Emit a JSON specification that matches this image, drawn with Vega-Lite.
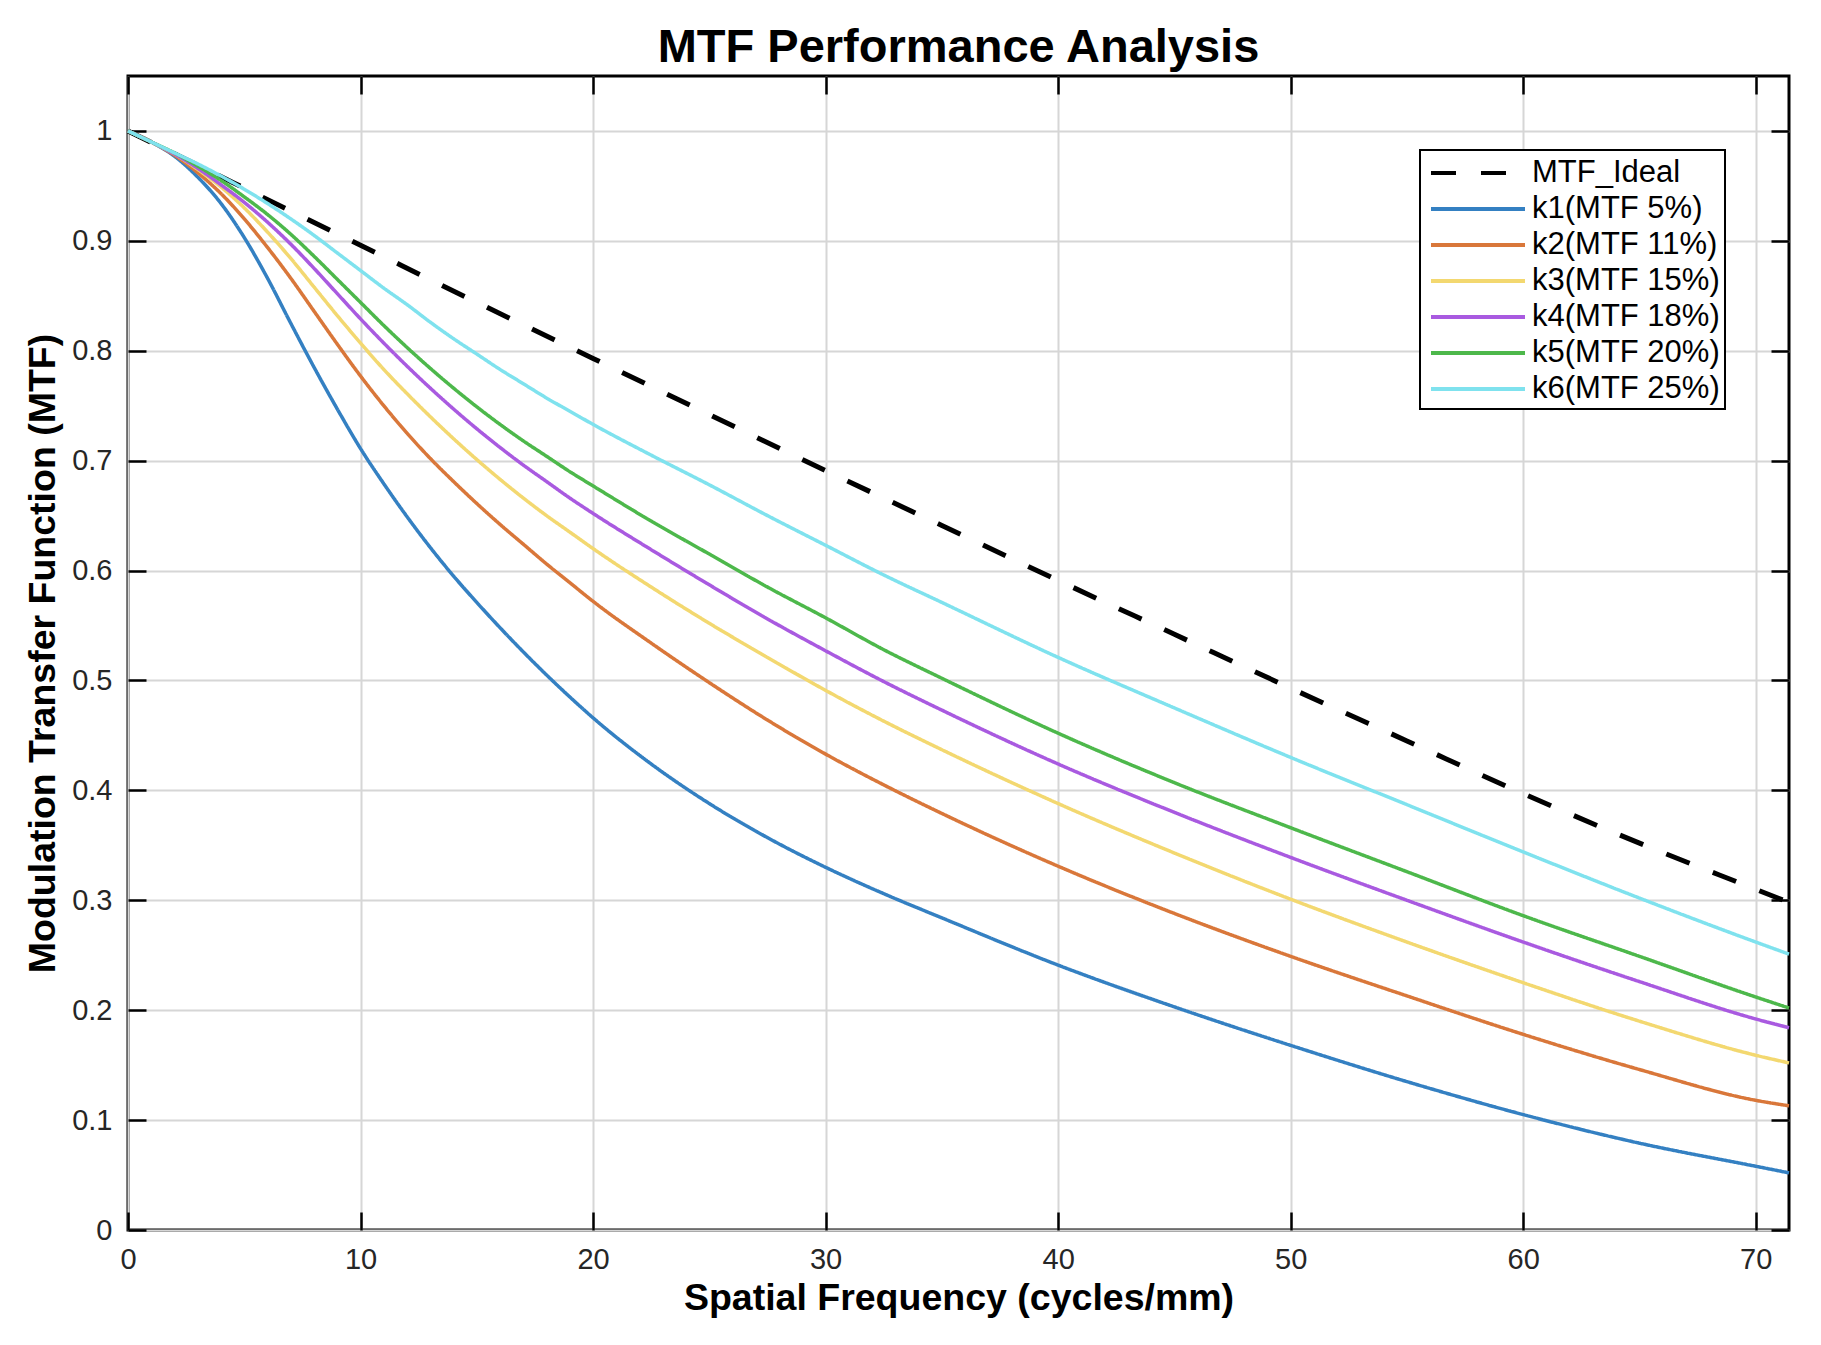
{
  "$schema": "https://vega.github.io/schema/vega-lite/v6.json",
  "width": 1661,
  "height": 1154,
  "autosize": {"type": "none"},
  "padding": {"left": 128, "top": 76, "right": 32, "bottom": 115},
  "background": "white",
  "title": {
    "text": "MTF Performance Analysis",
    "font": "Liberation Sans",
    "fontSize": 47,
    "fontWeight": "bold",
    "color": "black",
    "anchor": "middle",
    "frame": "group",
    "baseline": "alphabetic",
    "offset": -34
  },
  "data": {
    "values": [
      {"freq": 0, "mtf": 1.0, "series": "MTF_Ideal"},
      {"freq": 5, "mtf": 0.948, "series": "MTF_Ideal"},
      {"freq": 10, "mtf": 0.896, "series": "MTF_Ideal"},
      {"freq": 15, "mtf": 0.844, "series": "MTF_Ideal"},
      {"freq": 20, "mtf": 0.793, "series": "MTF_Ideal"},
      {"freq": 25, "mtf": 0.742, "series": "MTF_Ideal"},
      {"freq": 30, "mtf": 0.691, "series": "MTF_Ideal"},
      {"freq": 35, "mtf": 0.641, "series": "MTF_Ideal"},
      {"freq": 40, "mtf": 0.591, "series": "MTF_Ideal"},
      {"freq": 45, "mtf": 0.542, "series": "MTF_Ideal"},
      {"freq": 50, "mtf": 0.493, "series": "MTF_Ideal"},
      {"freq": 55, "mtf": 0.445, "series": "MTF_Ideal"},
      {"freq": 60, "mtf": 0.397, "series": "MTF_Ideal"},
      {"freq": 65, "mtf": 0.352, "series": "MTF_Ideal"},
      {"freq": 70, "mtf": 0.31, "series": "MTF_Ideal"},
      {"freq": 71.43, "mtf": 0.298, "series": "MTF_Ideal"},

      {"freq": 0, "mtf": 1.0, "series": "k1(MTF 5%)"},
      {"freq": 1, "mtf": 0.99, "series": "k1(MTF 5%)"},
      {"freq": 2, "mtf": 0.977, "series": "k1(MTF 5%)"},
      {"freq": 3, "mtf": 0.958, "series": "k1(MTF 5%)"},
      {"freq": 4, "mtf": 0.934, "series": "k1(MTF 5%)"},
      {"freq": 5, "mtf": 0.903, "series": "k1(MTF 5%)"},
      {"freq": 6, "mtf": 0.866, "series": "k1(MTF 5%)"},
      {"freq": 7, "mtf": 0.825, "series": "k1(MTF 5%)"},
      {"freq": 8, "mtf": 0.785, "series": "k1(MTF 5%)"},
      {"freq": 9, "mtf": 0.747, "series": "k1(MTF 5%)"},
      {"freq": 10, "mtf": 0.711, "series": "k1(MTF 5%)"},
      {"freq": 11, "mtf": 0.679, "series": "k1(MTF 5%)"},
      {"freq": 12, "mtf": 0.649, "series": "k1(MTF 5%)"},
      {"freq": 13, "mtf": 0.621, "series": "k1(MTF 5%)"},
      {"freq": 14, "mtf": 0.595, "series": "k1(MTF 5%)"},
      {"freq": 15, "mtf": 0.571, "series": "k1(MTF 5%)"},
      {"freq": 16, "mtf": 0.548, "series": "k1(MTF 5%)"},
      {"freq": 17, "mtf": 0.526, "series": "k1(MTF 5%)"},
      {"freq": 18, "mtf": 0.505, "series": "k1(MTF 5%)"},
      {"freq": 19, "mtf": 0.485, "series": "k1(MTF 5%)"},
      {"freq": 20, "mtf": 0.466, "series": "k1(MTF 5%)"},
      {"freq": 22.5, "mtf": 0.424, "series": "k1(MTF 5%)"},
      {"freq": 25, "mtf": 0.388, "series": "k1(MTF 5%)"},
      {"freq": 27.5, "mtf": 0.357, "series": "k1(MTF 5%)"},
      {"freq": 30, "mtf": 0.33, "series": "k1(MTF 5%)"},
      {"freq": 32.5, "mtf": 0.306, "series": "k1(MTF 5%)"},
      {"freq": 35, "mtf": 0.284, "series": "k1(MTF 5%)"},
      {"freq": 40, "mtf": 0.241, "series": "k1(MTF 5%)"},
      {"freq": 45, "mtf": 0.203, "series": "k1(MTF 5%)"},
      {"freq": 50, "mtf": 0.168, "series": "k1(MTF 5%)"},
      {"freq": 55, "mtf": 0.135, "series": "k1(MTF 5%)"},
      {"freq": 60, "mtf": 0.105, "series": "k1(MTF 5%)"},
      {"freq": 65, "mtf": 0.079, "series": "k1(MTF 5%)"},
      {"freq": 70, "mtf": 0.058, "series": "k1(MTF 5%)"},
      {"freq": 71.43, "mtf": 0.052, "series": "k1(MTF 5%)"},

      {"freq": 0, "mtf": 1.0, "series": "k2(MTF 11%)"},
      {"freq": 1, "mtf": 0.99, "series": "k2(MTF 11%)"},
      {"freq": 2, "mtf": 0.978, "series": "k2(MTF 11%)"},
      {"freq": 3, "mtf": 0.962, "series": "k2(MTF 11%)"},
      {"freq": 4, "mtf": 0.943, "series": "k2(MTF 11%)"},
      {"freq": 5, "mtf": 0.92, "series": "k2(MTF 11%)"},
      {"freq": 6, "mtf": 0.894, "series": "k2(MTF 11%)"},
      {"freq": 7, "mtf": 0.866, "series": "k2(MTF 11%)"},
      {"freq": 8, "mtf": 0.836, "series": "k2(MTF 11%)"},
      {"freq": 9, "mtf": 0.806, "series": "k2(MTF 11%)"},
      {"freq": 10, "mtf": 0.777, "series": "k2(MTF 11%)"},
      {"freq": 11, "mtf": 0.75, "series": "k2(MTF 11%)"},
      {"freq": 12, "mtf": 0.725, "series": "k2(MTF 11%)"},
      {"freq": 13, "mtf": 0.702, "series": "k2(MTF 11%)"},
      {"freq": 14, "mtf": 0.681, "series": "k2(MTF 11%)"},
      {"freq": 15, "mtf": 0.661, "series": "k2(MTF 11%)"},
      {"freq": 16, "mtf": 0.642, "series": "k2(MTF 11%)"},
      {"freq": 17, "mtf": 0.624, "series": "k2(MTF 11%)"},
      {"freq": 18, "mtf": 0.606, "series": "k2(MTF 11%)"},
      {"freq": 19, "mtf": 0.589, "series": "k2(MTF 11%)"},
      {"freq": 20, "mtf": 0.572, "series": "k2(MTF 11%)"},
      {"freq": 22.5, "mtf": 0.534, "series": "k2(MTF 11%)"},
      {"freq": 25, "mtf": 0.498, "series": "k2(MTF 11%)"},
      {"freq": 27.5, "mtf": 0.464, "series": "k2(MTF 11%)"},
      {"freq": 30, "mtf": 0.433, "series": "k2(MTF 11%)"},
      {"freq": 32.5, "mtf": 0.405, "series": "k2(MTF 11%)"},
      {"freq": 35, "mtf": 0.379, "series": "k2(MTF 11%)"},
      {"freq": 40, "mtf": 0.331, "series": "k2(MTF 11%)"},
      {"freq": 45, "mtf": 0.288, "series": "k2(MTF 11%)"},
      {"freq": 50, "mtf": 0.249, "series": "k2(MTF 11%)"},
      {"freq": 55, "mtf": 0.213, "series": "k2(MTF 11%)"},
      {"freq": 60, "mtf": 0.178, "series": "k2(MTF 11%)"},
      {"freq": 65, "mtf": 0.146, "series": "k2(MTF 11%)"},
      {"freq": 70, "mtf": 0.118, "series": "k2(MTF 11%)"},
      {"freq": 71.43, "mtf": 0.113, "series": "k2(MTF 11%)"},

      {"freq": 0, "mtf": 1.0, "series": "k3(MTF 15%)"},
      {"freq": 1, "mtf": 0.99, "series": "k3(MTF 15%)"},
      {"freq": 2, "mtf": 0.979, "series": "k3(MTF 15%)"},
      {"freq": 3, "mtf": 0.965, "series": "k3(MTF 15%)"},
      {"freq": 4, "mtf": 0.949, "series": "k3(MTF 15%)"},
      {"freq": 5, "mtf": 0.93, "series": "k3(MTF 15%)"},
      {"freq": 6, "mtf": 0.908, "series": "k3(MTF 15%)"},
      {"freq": 7, "mtf": 0.884, "series": "k3(MTF 15%)"},
      {"freq": 8, "mtf": 0.858, "series": "k3(MTF 15%)"},
      {"freq": 9, "mtf": 0.832, "series": "k3(MTF 15%)"},
      {"freq": 10, "mtf": 0.807, "series": "k3(MTF 15%)"},
      {"freq": 11, "mtf": 0.783, "series": "k3(MTF 15%)"},
      {"freq": 12, "mtf": 0.761, "series": "k3(MTF 15%)"},
      {"freq": 13, "mtf": 0.74, "series": "k3(MTF 15%)"},
      {"freq": 14, "mtf": 0.72, "series": "k3(MTF 15%)"},
      {"freq": 15, "mtf": 0.701, "series": "k3(MTF 15%)"},
      {"freq": 16, "mtf": 0.683, "series": "k3(MTF 15%)"},
      {"freq": 17, "mtf": 0.666, "series": "k3(MTF 15%)"},
      {"freq": 18, "mtf": 0.65, "series": "k3(MTF 15%)"},
      {"freq": 19, "mtf": 0.635, "series": "k3(MTF 15%)"},
      {"freq": 20, "mtf": 0.62, "series": "k3(MTF 15%)"},
      {"freq": 22.5, "mtf": 0.585, "series": "k3(MTF 15%)"},
      {"freq": 25, "mtf": 0.552, "series": "k3(MTF 15%)"},
      {"freq": 27.5, "mtf": 0.521, "series": "k3(MTF 15%)"},
      {"freq": 30, "mtf": 0.491, "series": "k3(MTF 15%)"},
      {"freq": 32.5, "mtf": 0.463, "series": "k3(MTF 15%)"},
      {"freq": 35, "mtf": 0.437, "series": "k3(MTF 15%)"},
      {"freq": 40, "mtf": 0.388, "series": "k3(MTF 15%)"},
      {"freq": 45, "mtf": 0.343, "series": "k3(MTF 15%)"},
      {"freq": 50, "mtf": 0.301, "series": "k3(MTF 15%)"},
      {"freq": 55, "mtf": 0.262, "series": "k3(MTF 15%)"},
      {"freq": 60, "mtf": 0.225, "series": "k3(MTF 15%)"},
      {"freq": 65, "mtf": 0.19, "series": "k3(MTF 15%)"},
      {"freq": 70, "mtf": 0.159, "series": "k3(MTF 15%)"},
      {"freq": 71.43, "mtf": 0.152, "series": "k3(MTF 15%)"},

      {"freq": 0, "mtf": 1.0, "series": "k4(MTF 18%)"},
      {"freq": 1, "mtf": 0.99, "series": "k4(MTF 18%)"},
      {"freq": 2, "mtf": 0.979, "series": "k4(MTF 18%)"},
      {"freq": 3, "mtf": 0.966, "series": "k4(MTF 18%)"},
      {"freq": 4, "mtf": 0.951, "series": "k4(MTF 18%)"},
      {"freq": 5, "mtf": 0.935, "series": "k4(MTF 18%)"},
      {"freq": 6, "mtf": 0.917, "series": "k4(MTF 18%)"},
      {"freq": 7, "mtf": 0.897, "series": "k4(MTF 18%)"},
      {"freq": 8, "mtf": 0.875, "series": "k4(MTF 18%)"},
      {"freq": 9, "mtf": 0.852, "series": "k4(MTF 18%)"},
      {"freq": 10, "mtf": 0.829, "series": "k4(MTF 18%)"},
      {"freq": 11, "mtf": 0.807, "series": "k4(MTF 18%)"},
      {"freq": 12, "mtf": 0.786, "series": "k4(MTF 18%)"},
      {"freq": 13, "mtf": 0.766, "series": "k4(MTF 18%)"},
      {"freq": 14, "mtf": 0.747, "series": "k4(MTF 18%)"},
      {"freq": 15, "mtf": 0.729, "series": "k4(MTF 18%)"},
      {"freq": 16, "mtf": 0.712, "series": "k4(MTF 18%)"},
      {"freq": 17, "mtf": 0.696, "series": "k4(MTF 18%)"},
      {"freq": 18, "mtf": 0.681, "series": "k4(MTF 18%)"},
      {"freq": 19, "mtf": 0.666, "series": "k4(MTF 18%)"},
      {"freq": 20, "mtf": 0.652, "series": "k4(MTF 18%)"},
      {"freq": 22.5, "mtf": 0.619, "series": "k4(MTF 18%)"},
      {"freq": 25, "mtf": 0.587, "series": "k4(MTF 18%)"},
      {"freq": 27.5, "mtf": 0.556, "series": "k4(MTF 18%)"},
      {"freq": 30, "mtf": 0.527, "series": "k4(MTF 18%)"},
      {"freq": 32.5, "mtf": 0.499, "series": "k4(MTF 18%)"},
      {"freq": 35, "mtf": 0.473, "series": "k4(MTF 18%)"},
      {"freq": 40, "mtf": 0.424, "series": "k4(MTF 18%)"},
      {"freq": 45, "mtf": 0.38, "series": "k4(MTF 18%)"},
      {"freq": 50, "mtf": 0.339, "series": "k4(MTF 18%)"},
      {"freq": 55, "mtf": 0.3, "series": "k4(MTF 18%)"},
      {"freq": 60, "mtf": 0.262, "series": "k4(MTF 18%)"},
      {"freq": 65, "mtf": 0.226, "series": "k4(MTF 18%)"},
      {"freq": 70, "mtf": 0.192, "series": "k4(MTF 18%)"},
      {"freq": 71.43, "mtf": 0.184, "series": "k4(MTF 18%)"},

      {"freq": 0, "mtf": 1.0, "series": "k5(MTF 20%)"},
      {"freq": 1, "mtf": 0.99, "series": "k5(MTF 20%)"},
      {"freq": 2, "mtf": 0.98, "series": "k5(MTF 20%)"},
      {"freq": 3, "mtf": 0.968, "series": "k5(MTF 20%)"},
      {"freq": 4, "mtf": 0.955, "series": "k5(MTF 20%)"},
      {"freq": 5, "mtf": 0.94, "series": "k5(MTF 20%)"},
      {"freq": 6, "mtf": 0.924, "series": "k5(MTF 20%)"},
      {"freq": 7, "mtf": 0.906, "series": "k5(MTF 20%)"},
      {"freq": 8, "mtf": 0.886, "series": "k5(MTF 20%)"},
      {"freq": 9, "mtf": 0.865, "series": "k5(MTF 20%)"},
      {"freq": 10, "mtf": 0.844, "series": "k5(MTF 20%)"},
      {"freq": 11, "mtf": 0.823, "series": "k5(MTF 20%)"},
      {"freq": 12, "mtf": 0.803, "series": "k5(MTF 20%)"},
      {"freq": 13, "mtf": 0.784, "series": "k5(MTF 20%)"},
      {"freq": 14, "mtf": 0.766, "series": "k5(MTF 20%)"},
      {"freq": 15, "mtf": 0.749, "series": "k5(MTF 20%)"},
      {"freq": 16, "mtf": 0.733, "series": "k5(MTF 20%)"},
      {"freq": 17, "mtf": 0.718, "series": "k5(MTF 20%)"},
      {"freq": 18, "mtf": 0.704, "series": "k5(MTF 20%)"},
      {"freq": 19, "mtf": 0.69, "series": "k5(MTF 20%)"},
      {"freq": 20, "mtf": 0.677, "series": "k5(MTF 20%)"},
      {"freq": 22.5, "mtf": 0.645, "series": "k5(MTF 20%)"},
      {"freq": 25, "mtf": 0.615, "series": "k5(MTF 20%)"},
      {"freq": 27.5, "mtf": 0.585, "series": "k5(MTF 20%)"},
      {"freq": 30, "mtf": 0.557, "series": "k5(MTF 20%)"},
      {"freq": 32.5, "mtf": 0.528, "series": "k5(MTF 20%)"},
      {"freq": 35, "mtf": 0.502, "series": "k5(MTF 20%)"},
      {"freq": 40, "mtf": 0.452, "series": "k5(MTF 20%)"},
      {"freq": 45, "mtf": 0.407, "series": "k5(MTF 20%)"},
      {"freq": 50, "mtf": 0.366, "series": "k5(MTF 20%)"},
      {"freq": 55, "mtf": 0.326, "series": "k5(MTF 20%)"},
      {"freq": 60, "mtf": 0.286, "series": "k5(MTF 20%)"},
      {"freq": 65, "mtf": 0.249, "series": "k5(MTF 20%)"},
      {"freq": 70, "mtf": 0.212, "series": "k5(MTF 20%)"},
      {"freq": 71.43, "mtf": 0.202, "series": "k5(MTF 20%)"},

      {"freq": 0, "mtf": 1.0, "series": "k6(MTF 25%)"},
      {"freq": 1, "mtf": 0.99, "series": "k6(MTF 25%)"},
      {"freq": 2, "mtf": 0.98, "series": "k6(MTF 25%)"},
      {"freq": 3, "mtf": 0.97, "series": "k6(MTF 25%)"},
      {"freq": 4, "mtf": 0.959, "series": "k6(MTF 25%)"},
      {"freq": 5, "mtf": 0.947, "series": "k6(MTF 25%)"},
      {"freq": 6, "mtf": 0.934, "series": "k6(MTF 25%)"},
      {"freq": 7, "mtf": 0.92, "series": "k6(MTF 25%)"},
      {"freq": 8, "mtf": 0.905, "series": "k6(MTF 25%)"},
      {"freq": 9, "mtf": 0.889, "series": "k6(MTF 25%)"},
      {"freq": 10, "mtf": 0.873, "series": "k6(MTF 25%)"},
      {"freq": 11, "mtf": 0.857, "series": "k6(MTF 25%)"},
      {"freq": 12, "mtf": 0.842, "series": "k6(MTF 25%)"},
      {"freq": 13, "mtf": 0.826, "series": "k6(MTF 25%)"},
      {"freq": 14, "mtf": 0.811, "series": "k6(MTF 25%)"},
      {"freq": 15, "mtf": 0.797, "series": "k6(MTF 25%)"},
      {"freq": 16, "mtf": 0.783, "series": "k6(MTF 25%)"},
      {"freq": 17, "mtf": 0.77, "series": "k6(MTF 25%)"},
      {"freq": 18, "mtf": 0.757, "series": "k6(MTF 25%)"},
      {"freq": 19, "mtf": 0.745, "series": "k6(MTF 25%)"},
      {"freq": 20, "mtf": 0.733, "series": "k6(MTF 25%)"},
      {"freq": 22.5, "mtf": 0.705, "series": "k6(MTF 25%)"},
      {"freq": 25, "mtf": 0.678, "series": "k6(MTF 25%)"},
      {"freq": 27.5, "mtf": 0.65, "series": "k6(MTF 25%)"},
      {"freq": 30, "mtf": 0.623, "series": "k6(MTF 25%)"},
      {"freq": 32.5, "mtf": 0.596, "series": "k6(MTF 25%)"},
      {"freq": 35, "mtf": 0.571, "series": "k6(MTF 25%)"},
      {"freq": 40, "mtf": 0.521, "series": "k6(MTF 25%)"},
      {"freq": 45, "mtf": 0.475, "series": "k6(MTF 25%)"},
      {"freq": 50, "mtf": 0.43, "series": "k6(MTF 25%)"},
      {"freq": 55, "mtf": 0.387, "series": "k6(MTF 25%)"},
      {"freq": 60, "mtf": 0.344, "series": "k6(MTF 25%)"},
      {"freq": 65, "mtf": 0.302, "series": "k6(MTF 25%)"},
      {"freq": 70, "mtf": 0.262, "series": "k6(MTF 25%)"},
      {"freq": 71.43, "mtf": 0.251, "series": "k6(MTF 25%)"}
    ]
  },
  "layer": [
    {
      "mark": {"type": "line", "interpolate": "monotone", "strokeCap": "butt"},
      "encoding": {
        "x": {
          "field": "freq",
          "type": "quantitative",
          "scale": {"domain": [0, 71.43], "nice": false, "zero": false},
          "axis": {
            "orient": "bottom",
            "values": [0, 10, 20, 30, 40, 50, 60, 70],
            "format": "d",
            "title": "Spatial Frequency (cycles/mm)",
            "grid": true,
            "labelPadding": 33,
            "titlePadding": 5
          }
        },
        "y": {
          "field": "mtf",
          "type": "quantitative",
          "scale": {"domain": [0, 1.05], "nice": false},
          "axis": {
            "orient": "left",
            "values": [0, 0.1, 0.2, 0.3, 0.4, 0.5, 0.6, 0.7, 0.8, 0.9, 1],
            "format": "~g",
            "title": "Modulation Transfer Function (MTF)",
            "grid": true,
            "labelPadding": 34,
            "titlePadding": 9
          }
        },
        "color": {
          "field": "series",
          "type": "nominal",
          "sort": null,
          "scale": {
            "domain": ["MTF_Ideal", "k1(MTF 5%)", "k2(MTF 11%)", "k3(MTF 15%)", "k4(MTF 18%)", "k5(MTF 20%)", "k6(MTF 25%)"],
            "range": ["#000000", "#3480c2", "#d9773a", "#f3d870", "#a95ae0", "#4db84b", "#7fe2ee"]
          },
          "legend": {
            "title": null,
            "orient": "none",
            "legendX": 1292,
            "legendY": 74,
            "symbolType": "M-3,0H3",
            "symbolSize": 982,
            "symbolStrokeWidth": 4,
            "symbolOffset": 35,
            "labelFont": "Liberation Sans",
            "labelFontSize": 31,
            "labelColor": "black",
            "labelOffset": 36,
            "labelLimit": 400,
            "rowPadding": 3,
            "padding": 5,
            "strokeColor": "black",
            "fillColor": "white",
            "encode": {"legend": {"update": {"strokeWidth": {"value": 2}}}}
          }
        },
        "strokeDash": {
          "field": "series",
          "type": "nominal",
          "sort": null,
          "scale": {
            "domain": ["MTF_Ideal", "k1(MTF 5%)", "k2(MTF 11%)", "k3(MTF 15%)", "k4(MTF 18%)", "k5(MTF 20%)", "k6(MTF 25%)"],
            "range": [[25, 25], [1, 0], [1, 0], [1, 0], [1, 0], [1, 0], [1, 0]]
          },
          "legend": {
            "title": null,
            "orient": "none",
            "legendX": 1292,
            "legendY": 74,
            "symbolType": "M-3,0H3",
            "symbolSize": 982,
            "symbolStrokeWidth": 4,
            "symbolOffset": 35,
            "labelFont": "Liberation Sans",
            "labelFontSize": 31,
            "labelColor": "black",
            "labelOffset": 36,
            "labelLimit": 400,
            "rowPadding": 3,
            "padding": 5,
            "strokeColor": "black",
            "fillColor": "white",
            "encode": {"legend": {"update": {"strokeWidth": {"value": 2}}}}
          }
        },
        "strokeWidth": {
          "condition": {"test": "datum.series === 'MTF_Ideal'", "value": 5},
          "value": 3.5
        }
      }
    },
    {
      "mark": {"type": "point", "opacity": 0},
      "encoding": {
        "x": {
          "field": "freq",
          "type": "quantitative",
          "axis": {
            "orient": "top",
            "values": [0, 10, 20, 30, 40, 50, 60, 70],
            "labels": false,
            "title": null,
            "grid": false
          }
        },
        "y": {
          "field": "mtf",
          "type": "quantitative",
          "axis": {
            "orient": "right",
            "values": [0, 0.1, 0.2, 0.3, 0.4, 0.5, 0.6, 0.7, 0.8, 0.9, 1],
            "labels": false,
            "title": null,
            "grid": false
          }
        }
      }
    }
  ],
  "resolve": {"axis": {"x": "independent", "y": "independent"}},
  "config": {
    "view": {"stroke": "black", "strokeWidth": 3},
    "axis": {
      "domain": false,
      "gridColor": "#d6d6d6",
      "gridWidth": 2,
      "gridOpacity": 1,
      "ticks": true,
      "tickSize": -18,
      "tickWidth": 2.5,
      "tickColor": "black",
      "labelFont": "Liberation Sans",
      "labelFontSize": 29,
      "labelColor": "#262626",
      "labelFlush": false,
      "labelOverlap": false,
      "titleFont": "Liberation Sans",
      "titleFontSize": 37.5,
      "titleFontWeight": "bold",
      "titleColor": "black"
    }
  }
}
